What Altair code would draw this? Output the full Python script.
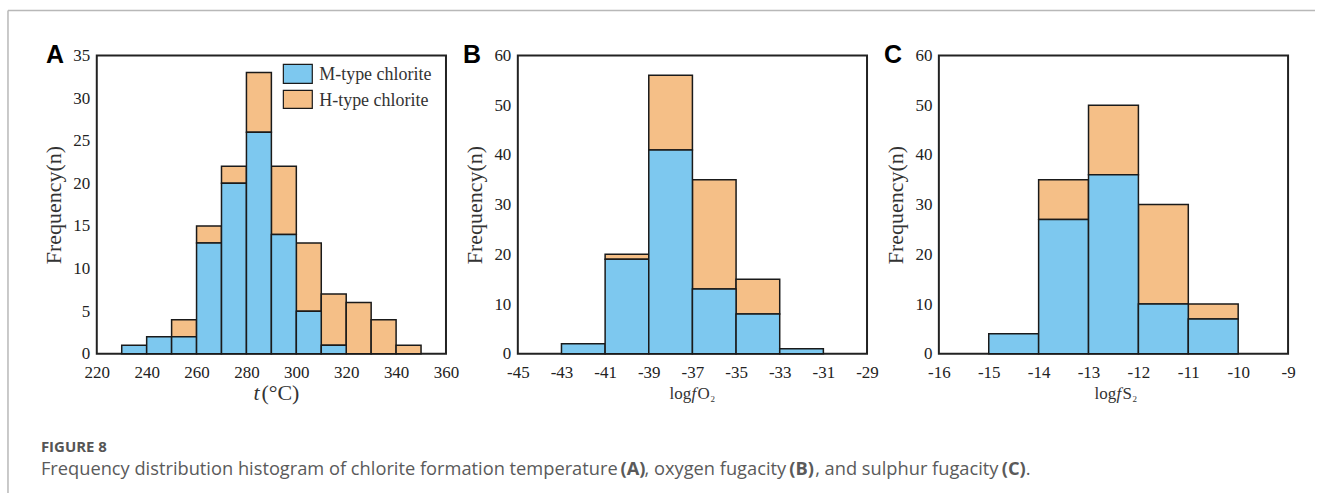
import altair as alt
import pandas as pd

# ---------------- data ----------------
a_start = [230, 240, 250, 260, 270, 280, 290, 300, 310, 320, 330, 340]
a_m = [1, 2, 2, 13, 20, 26, 14, 5, 1, 0, 0, 0]
a_h = [0, 0, 2, 2, 2, 7, 8, 8, 6, 6, 4, 1]
a_width = 10

b_start = [-43, -41, -39, -37, -35, -33]
b_m = [2, 19, 41, 13, 8, 1]
b_h = [0, 1, 15, 22, 7, 0]
b_width = 2

c_start = [-15, -14, -13, -12, -11]
c_m = [4, 27, 36, 10, 7]
c_h = [0, 8, 14, 20, 3]
c_width = 1

a_xticks = [220, 240, 260, 280, 300, 320, 340, 360]
b_xticks = [-45, -43, -41, -39, -37, -35, -33, -31, -29]
c_xticks = [-16, -15, -14, -13, -12, -11, -10, -9]
a_yticks = [0, 5, 10, 15, 20, 25, 30, 35]
bc_yticks = [0, 10, 20, 30, 40, 50, 60]

series_names = ["M-type chlorite", "H-type chlorite"]
caption_label = "FIGURE 8"
caption_parts = [
    ("Frequency distribution histogram of chlorite formation temperature", "normal"),
    ("(A)", "bold"),
    (", oxygen fugacity", "normal"),
    ("(B)", "bold"),
    (", and sulphur fugacity", "normal"),
    ("(C)", "bold"),
    (".", "normal"),
]

# ---------------- style ----------------
BLUE = "#7DC8EF"
ORANGE = "#F5BF87"
EDGE = "#1a1a1a"
SERIF = "Liberation Serif"
SANS = "Liberation Sans"
CAP_FONT = "Open Sans"
W, H = 350, 299


def make_df(starts, m, h, width):
    return pd.DataFrame({
        "start": starts,
        "end": [s + width for s in starts],
        "M": m,
        "H": h,
        "total": [a + b for a, b in zip(m, h)],
        "zero": [0] * len(starts),
    })


def txt(text, x, y, size, font=SERIF, style="normal", weight="normal",
        color="#222", align="left", baseline="alphabetic"):
    return alt.Chart(pd.DataFrame({"t": [text]})).mark_text(
        font=font, fontSize=size, fontStyle=style, fontWeight=weight,
        color=color, align=align, baseline=baseline
    ).encode(x=alt.value(x), y=alt.value(y), text="t:N")


def panel(df, xdom, xticks, ymax, yticks, letter, letter_x, extra):
    xs = alt.Scale(domain=xdom, nice=False, zero=False)
    ys = alt.Scale(domain=[0, ymax], nice=False)
    xaxis = alt.Axis(values=xticks, title=None, ticks=False, domain=False, grid=False,
                     labelFont=SERIF, labelFontSize=17, labelColor="#222",
                     labelPadding=11, labelFlush=False,
                     labelExpr="replace(datum.label, '\u2212', '-')")
    yaxis = alt.Axis(values=yticks, title="Frequency(n)", ticks=False, domain=False,
                     grid=False, labelFont=SERIF, labelFontSize=17, labelColor="#222",
                     labelPadding=7, titleFont=SERIF, titleFontSize=22,
                     titleFontWeight="normal", titleColor="#333",
                     titleX=-43, titleY=H / 2, titleAngle=270,
                     titleAlign="center", titleBaseline="middle")
    base = alt.Chart(df)
    orange = base.transform_filter("datum.H > 0").mark_rect(
        fill=ORANGE, stroke=EDGE, strokeWidth=1.5
    ).encode(
        x=alt.X("start:Q", scale=xs, axis=xaxis),
        x2="end:Q",
        y=alt.Y("total:Q", scale=ys, axis=yaxis),
        y2="M:Q",
    )
    blue = base.transform_filter("datum.M > 0").mark_rect(
        fill=BLUE, stroke=EDGE, strokeWidth=1.5
    ).encode(
        x=alt.X("start:Q", scale=xs, axis=xaxis),
        x2="end:Q",
        y=alt.Y("M:Q", scale=ys, axis=yaxis),
        y2="zero:Q",
    )
    lab = txt(letter, letter_x, 8, 25, font=SANS, weight="bold", color="#000")
    return alt.layer(orange, blue, lab, *extra).properties(width=W, height=H)


dfa = make_df(a_start, a_m, a_h, a_width)
dfb = make_df(b_start, b_m, b_h, b_width)
dfc = make_df(c_start, c_m, c_h, c_width)

one = pd.DataFrame({"k": [0]})
FRAME = "#b8b8b8"
frame_top = alt.Chart(one).mark_rule(color=FRAME, strokeWidth=1.5).encode(
    x=alt.value(-89), x2=alt.value(1221), y=alt.value(-45))
frame_left = alt.Chart(one).mark_rule(color=FRAME, strokeWidth=1.5).encode(
    x=alt.value(-89), y=alt.value(-45), y2=alt.value(439))

leg_blue = alt.Chart(one).mark_rect(fill=BLUE, stroke=EDGE, strokeWidth=1.2).encode(
    x=alt.value(187), x2=alt.value(216), y=alt.value(9), y2=alt.value(28))
leg_orange = alt.Chart(one).mark_rect(fill=ORANGE, stroke=EDGE, strokeWidth=1.2).encode(
    x=alt.value(187), x2=alt.value(216), y=alt.value(35), y2=alt.value(53))
leg_t1 = txt(series_names[0], 223, 25, 18, color="#333")
leg_t2 = txt(series_names[1], 223, 51, 18, color="#333")

a_title = [
    txt("t", 157, 345, 22, style="italic", color="#333"),
    txt("(°C)", 165, 345, 22, color="#333"),
]
b_title = [
    txt("log", 152, 344, 17, color="#333"),
    txt("f", 174, 344, 17, style="italic", color="#333"),
    txt("O", 180, 344, 17, color="#333"),
    txt("2", 193, 347, 9, color="#333"),
]
c_title = [
    txt("log", 156, 344, 17, color="#333"),
    txt("f", 178, 344, 17, style="italic", color="#333"),
    txt("S", 184, 344, 17, color="#333"),
    txt("2", 194, 347, 9, color="#333"),
]

pa = panel(dfa, [220, 360], a_xticks, 35, a_yticks, "A", -51,
           [frame_top, frame_left, leg_blue, leg_orange, leg_t1, leg_t2] + a_title)
pb = panel(dfb, [-45, -29], b_xticks, 60, bc_yticks, "B", -55, b_title)
pc = panel(dfc, [-16, -9], c_xticks, 60, bc_yticks, "C", -55, c_title)

top = alt.hconcat(pa, pb, pc, spacing=72, bounds="flush")

# caption origin sits ~74px below the top of the plot row
cap_x = [-56, 525, 549, 694, 720, 907, 931]
cap_layers = [txt(caption_label, -56, 377, 15, font=CAP_FONT, weight="bold", color="#555")]
for (t, wgt), x in zip(caption_parts, cap_x):
    cap_layers.append(txt(t, x, 401, 18.3, font=CAP_FONT, weight=wgt, color="#5a5a5a"))
caption = alt.layer(*cap_layers).properties(
    width=1000, height=10, view=alt.ViewBackground(stroke="transparent"))

chart = alt.vconcat(top, caption, spacing=20, bounds="flush").properties(
    autosize=alt.AutoSizeParams(type="pad"),
    padding={"left": 6, "top": 8, "right": 0, "bottom": 0},
).configure_view(stroke="#222", strokeWidth=2)

chart.save("out.html", embed_options={"renderer": "svg", "actions": False})
